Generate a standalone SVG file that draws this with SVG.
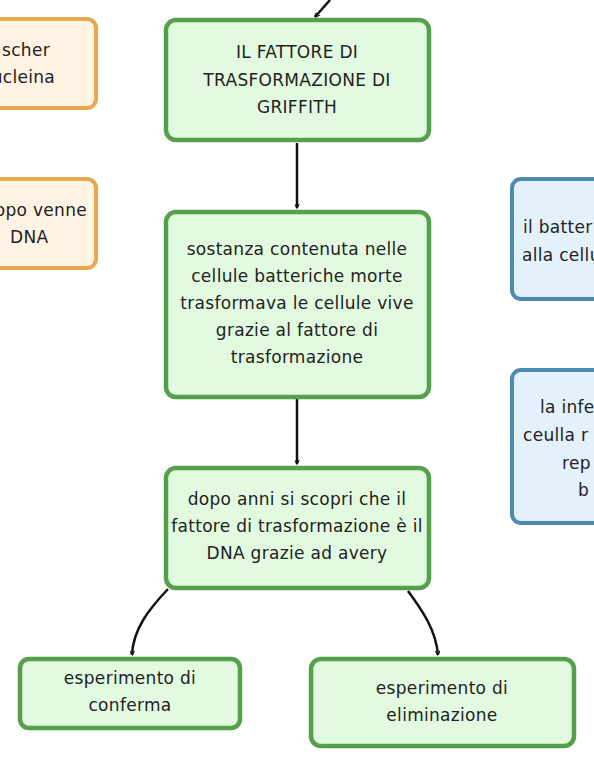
<svg xmlns="http://www.w3.org/2000/svg" width="594" height="768" viewBox="0 0 594 768">
<style>
.g rect{fill:#e2fbe0;stroke:#55a04a;stroke-width:4.5}
.o rect{fill:#fff3e3;stroke:#e8a852;stroke-width:4}
.b rect{fill:#e3f1fc;stroke:#4e89b0;stroke-width:4}
text{font-family:"DejaVu Sans","Open Sans",sans-serif;font-size:17px;letter-spacing:0.3px;fill:#222;dominant-baseline:central}
.c{text-anchor:middle}
.e{text-anchor:end}
.conn path{fill:none;stroke:#111;stroke-width:2.5}
</style>
<defs>
<marker id="ah" viewBox="0 0 10 10" refX="9" refY="5" markerWidth="5" markerHeight="5" orient="auto" markerUnits="userSpaceOnUse">
<path d="M0,0 L10,5 L0,10" fill="none" stroke="#111" stroke-width="2"/>
</marker>
</defs>
<rect width="594" height="768" fill="#fff"/>
<g class="conn">
<path d="M330,0 L315,17" marker-end="url(#ah)"/>
<path d="M297,143 L297,208" marker-end="url(#ah)"/>
<path d="M297,399 L297,464" marker-end="url(#ah)"/>
<path d="M168,589 C148,610 133,630 132,655" marker-end="url(#ah)"/>
<path d="M408,591 C422,610 436,630 438,655" marker-end="url(#ah)"/>
</g>
<g id="n-orange1" class="o">
<rect x="-20" y="19" width="116" height="89" rx="9"/>
<text class="e" x="50" y="50">scher</text>
<text class="e" x="55" y="77">ucleina</text>
</g>
<g id="n-orange2" class="o">
<rect x="-20" y="179" width="116" height="89" rx="9"/>
<text class="e" x="87" y="210">opo venne</text>
<text x="10" y="237">DNA</text>
</g>
<g id="n-blue1" class="b">
<rect x="512" y="179" width="120" height="120" rx="9"/>
<text x="523" y="227">il batter</text>
<text x="522" y="255">alla cellu</text>
</g>
<g id="n-blue2" class="b">
<rect x="512" y="370" width="120" height="153" rx="9"/>
<text x="540" y="407">la infe</text>
<text x="523" y="435">ceulla r</text>
<text x="562" y="463">rep</text>
<text x="578" y="490">b</text>
</g>
<g id="n-griffith" class="g">
<rect x="166" y="20" width="263" height="120" rx="10"/>
<text class="c" x="297" y="52">IL FATTORE DI</text>
<text class="c" x="297" y="80">TRASFORMAZIONE DI</text>
<text class="c" x="297" y="107">GRIFFITH</text>
</g>
<g id="n-sostanza" class="g">
<rect x="166" y="212" width="263" height="185" rx="10"/>
<text class="c" x="297" y="249">sostanza contenuta nelle</text>
<text class="c" x="297" y="276">cellule batteriche morte</text>
<text class="c" x="297" y="303">trasformava le cellule vive</text>
<text class="c" x="297" y="330">grazie al fattore di</text>
<text class="c" x="297" y="357">trasformazione</text>
</g>
<g id="n-avery" class="g">
<rect x="166" y="468" width="263" height="120" rx="10"/>
<text class="c" x="297" y="499">dopo anni si scopri che il</text>
<text class="c" x="297" y="526">fattore di trasformazione è il</text>
<text class="c" x="297" y="553">DNA grazie ad avery</text>
</g>
<g id="n-conferma" class="g">
<rect x="20" y="659" width="220" height="69" rx="9"/>
<text class="c" x="130" y="678">esperimento di</text>
<text class="c" x="130" y="705">conferma</text>
</g>
<g id="n-eliminazione" class="g">
<rect x="311" y="659" width="263" height="87" rx="10"/>
<text class="c" x="442" y="688">esperimento di</text>
<text class="c" x="442" y="715">eliminazione</text>
</g>
</svg>
